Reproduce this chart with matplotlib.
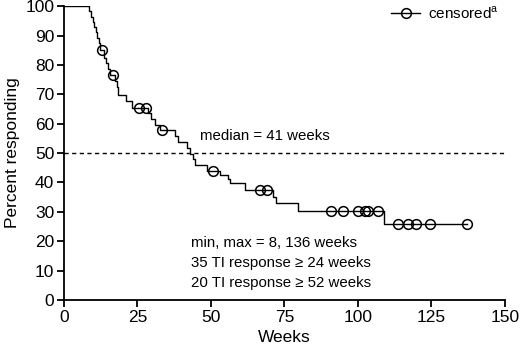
import numpy as np
import matplotlib
matplotlib.use("Agg")
import matplotlib.pyplot as plt

plt.rcParams['font.family'] = ['Liberation Sans', 'DejaVu Sans']

# Kaplan-Meier steps (week, percent after the step)
step_weeks = [0, 8.6, 9.2, 9.8, 10.3, 10.8, 11.3, 11.8, 12.3, 13.5, 14.2, 15.0,
              15.8, 17.5, 18.0, 18.4, 21.0, 23.0, 28.6, 29.5, 31.0, 32.5,
              37.8, 38.8, 41.7, 42.9, 44.0, 44.5, 48.5, 53.0, 55.9, 56.5,
              61.6, 71.2, 72.0, 79.7, 108.8]
step_pct = [100, 98.2, 96.4, 94.6, 92.9, 91.1, 89.3, 87.5, 85.0, 82.4, 80.5, 78.6,
            76.5, 74.6, 72.5, 69.8, 67.8, 65.5, 63.5, 61.5, 59.6, 57.8,
            55.9, 53.8, 51.6, 49.7, 47.9, 46.1, 44.0, 42.4, 41.1, 39.7,
            37.4, 35.2, 33.0, 30.3, 26.0]
last_week = 137

censor_weeks = [12.8, 16.8, 25.6, 27.9, 33.2, 50.8, 66.7, 68.9, 91.0, 95.0,
                100.1, 102.4, 103.5, 106.7, 113.7, 117.1, 119.9, 124.5, 137]

median_week = 41
notes = ["min, max = 8, 136 weeks",
         "35 TI response \u2265 24 weeks",
         "20 TI response \u2265 52 weeks"]

fig = plt.figure(figsize=(5.2, 3.54), dpi=100)
ax = fig.add_axes([0.123, 0.1525, 0.848, 0.83])

xs = step_weeks + [last_week]
ys = step_pct + [step_pct[-1]]
ax.step(xs, ys, where='post', color='black', lw=1.0)

idx = np.searchsorted(step_weeks, censor_weeks, side='right') - 1
censor_pct = [step_pct[i] for i in idx]
ax.plot(censor_weeks, censor_pct, 'o', ms=7, mfc='none', mec='black', mew=1.1)

# legend handle
ax.plot([], [], '-o', color='black', ms=7, mfc='none', mew=1.1, lw=1.0,
        label='censored$^{\\mathregular{a}}$')
leg = ax.legend(loc='upper right', frameon=False, fontsize=11, handlelength=1.9,
                handletextpad=0.5, borderaxespad=0.0, bbox_to_anchor=(1.0, 1.025))

ax.axhline(50, color='black', ls=(0, (3, 2.5)), lw=1.0)
ax.text(46.2, 53.3, f"median = {median_week} weeks", fontsize=10.8, va='bottom', ha='left')
for i, t in enumerate(notes):
    ax.text(43.3, 19.4 - i * 6.8, t, fontsize=10.8, va='center', ha='left')

ax.set_xlim(0, 150)
ax.set_ylim(0, 100)
ax.set_xticks(np.arange(0, 151, 25))
ax.set_yticks(np.arange(0, 101, 10))
for s in ['top', 'right']:
    ax.spines[s].set_visible(False)
for s in ['left', 'bottom']:
    ax.spines[s].set_linewidth(1.3)
ax.tick_params(direction='out', length=5, width=1.3, labelsize=12.5, pad=2)
ax.set_xlabel('Weeks', fontsize=12.5, labelpad=4)
ax.set_ylabel('Percent responding', fontsize=12.5, labelpad=4)

fig.savefig('out.png', dpi=100)
